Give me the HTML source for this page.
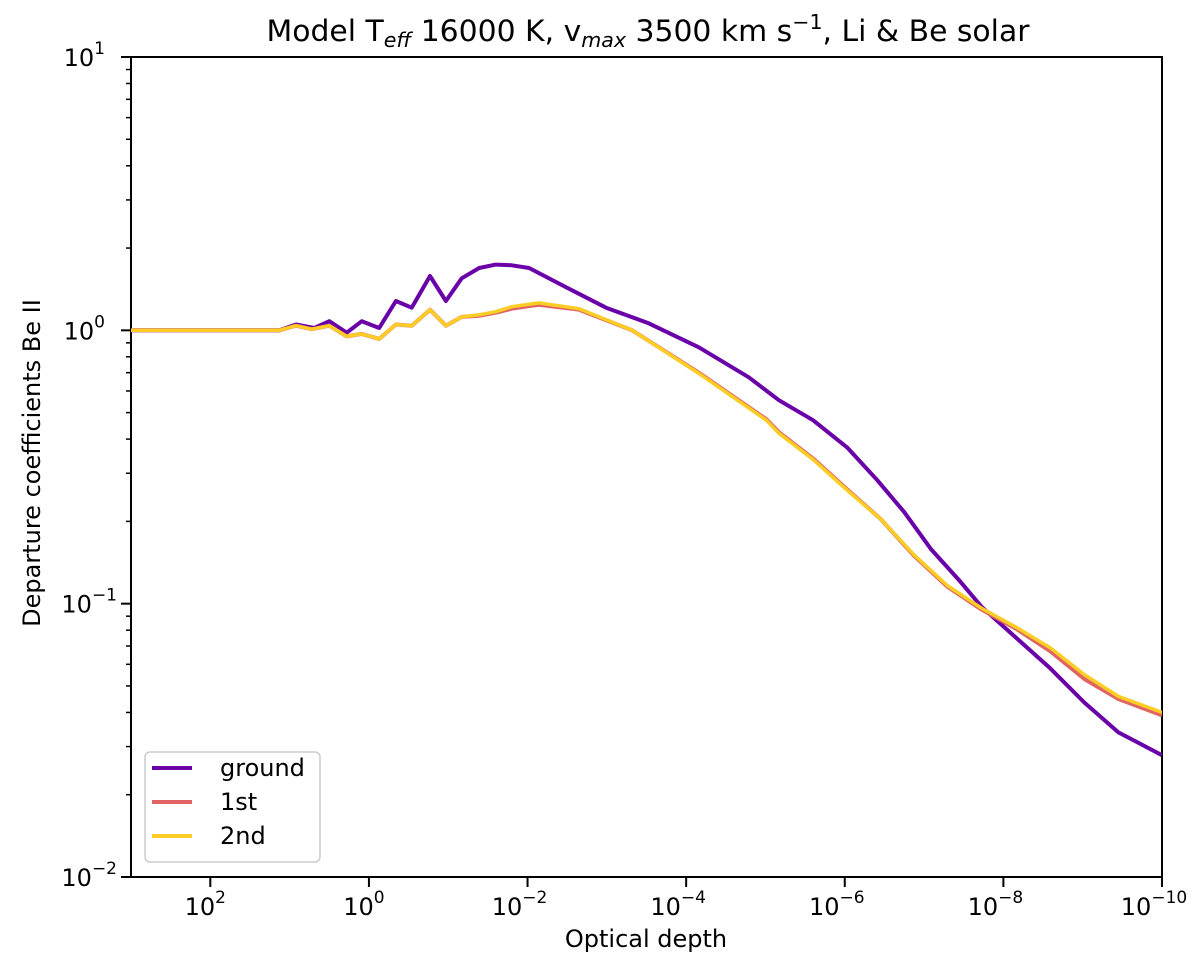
<!DOCTYPE html>
<html><head><meta charset="utf-8"><style>
body{margin:0;background:#fff;font-family:"DejaVu Sans","Liberation Sans",sans-serif;}
svg text{font-family:"DejaVu Sans","Liberation Sans",sans-serif;fill:#000;}
</style></head><body>
<svg id="chart" width="1200" height="958" xmlns="http://www.w3.org/2000/svg">
<text x="648" y="41" font-size="29" text-anchor="middle" textLength="763" lengthAdjust="spacingAndGlyphs">Model T<tspan font-size="20" dy="6" font-style="italic">eff</tspan><tspan dy="-6"> 16000 K, v</tspan><tspan font-size="20" dy="6" font-style="italic">max</tspan><tspan dy="-6"> 3500 km s</tspan><tspan font-size="20" dy="-12">−1</tspan><tspan dy="12">, Li &amp; Be solar</tspan></text>
<text x="646" y="947" font-size="24" text-anchor="middle">Optical depth</text>
<text x="40" y="463" font-size="24" text-anchor="middle" transform="rotate(-90 40 463)">Departure coefficients Be II</text>
<g id="axes"></g>
<g id="series"></g>
<g id="legend">
<rect x="145" y="752" width="175" height="110" rx="5" fill="#fff" stroke="#ccc" stroke-width="1.5"/>
</g>
</svg>
<script>
const xTicks=[2,0,-2,-4,-6,-8,-10];
const yTicks=[1,0,-1,-2];
const seriesNames=["ground","1st","2nd"];
const seriesColors=["#6a00a8","#e16462","#fccd25"];
const groundTau=[3.0,2.14,1.13,0.92,0.69,0.50,0.28,0.09,-0.13,-0.34,-0.54,-0.77,-0.97,-1.17,-1.39,-1.60,-1.80,-2.02,-2.48,-2.99,-3.53,-4.16,-4.79,-5.17,-5.60,-6.03,-6.41,-6.75,-7.09,-7.44,-7.73,-8.16,-8.59,-9.02,-9.45,-10.0];
const groundB=[1.00,1.00,1.00,1.05,1.02,1.08,0.98,1.08,1.02,1.28,1.21,1.58,1.28,1.55,1.69,1.74,1.73,1.69,1.44,1.21,1.06,0.867,0.673,0.555,0.469,0.373,0.283,0.216,0.158,0.122,0.097,0.075,0.058,0.0435,0.0338,0.0279];
const secondTau=[3.0,2.14,1.13,0.92,0.72,0.50,0.28,0.09,-0.13,-0.34,-0.54,-0.77,-0.97,-1.17,-1.39,-1.60,-1.80,-2.14,-2.65,-3.32,-4.16,-5.01,-5.17,-5.60,-6.03,-6.46,-6.87,-7.30,-7.73,-8.16,-8.59,-9.02,-9.45,-10.0];
const secondB=[1.00,1.00,1.00,1.04,1.01,1.04,0.95,0.97,0.93,1.05,1.04,1.19,1.04,1.12,1.14,1.17,1.22,1.26,1.20,1.00,0.696,0.469,0.42,0.337,0.260,0.203,0.151,0.116,0.096,0.082,0.069,0.055,0.0458,0.040];
const firstB=[1.00,1.00,1.00,1.04,1.01,1.04,0.95,0.97,0.93,1.05,1.04,1.19,1.04,1.12,1.13,1.16,1.20,1.24,1.19,1.00,0.70,0.473,0.424,0.340,0.262,0.203,0.150,0.115,0.095,0.081,0.067,0.053,0.0448,0.039];

const X0=131,X1=1162,Y0=57,Y1=877,LX0=3,LX1=-10,LY0=1,LY1=-2;
const xs=l=>X0+(LX0-l)/(LX0-LX1)*(X1-X0);
const ys=b=>Y0+(LY0-Math.log10(b))/(LY0-LY1)*(Y1-Y0);
const NS="http://www.w3.org/2000/svg";
function mk(tag,attrs,parent){const e=document.createElementNS(NS,tag);for(const k in attrs)e.setAttribute(k,attrs[k]);parent.appendChild(e);return e;}
const ax=document.getElementById('axes');
xTicks.forEach(t=>{const x=xs(t);
 const l=mk('line',{x1:x,x2:x,y1:Y1,y2:Y1+10,stroke:'#000','stroke-width':2},ax);
 
 
 const tx=mk('text',{x:x-(t<0?8:5),y:Y1+38,'font-size':24,'text-anchor':'middle'},ax);
 
 
 tx.innerHTML='10<tspan font-size="17" dy="-12">'+(t<0?'−'+(-t):t)+'</tspan>';});
yTicks.forEach(t=>{const y=ys(Math.pow(10,t));
 const l=mk('line',{x1:X0-10,x2:X0,y1:y,y2:y,stroke:'#000','stroke-width':2},ax);
 
 
 const tx=mk('text',{x:X0-(t<0?14:26),y:y+9,'font-size':24,'text-anchor':'end'},ax);
 
 
 tx.innerHTML='10<tspan font-size="17" dy="-12">'+(t<0?'−'+(-t):t)+'</tspan>';
 if(t>LY1){for(let m=2;m<10;m++){const yy=ys(m*Math.pow(10,t-1));
  const ml=mk('line',{x1:X0-5,x2:X0,y1:yy,y2:yy,stroke:'#000','stroke-width':1.5},ax);
  
  }}});
const fr=mk('rect',{x:X0,y:Y0,width:X1-X0,height:Y1-Y0,fill:'none',stroke:'#000','stroke-width':2},ax);


const sg=document.getElementById('series');
const clip=mk('clipPath',{id:'cp'},sg);mk('rect',{x:X0,y:Y0,width:X1-X0,height:Y1-Y0},clip);
function draw(tau,b,col,w,name){const d=tau.map((t,i)=>(i?'L':'M')+xs(t).toFixed(1)+','+ys(b[i]).toFixed(1)).join('');
 const p=mk('path',{d:d,fill:'none',stroke:col,'stroke-width':w,'stroke-linejoin':'round','clip-path':'url(#cp)'},sg);
 
 }
draw(groundTau,groundB,seriesColors[0],4,'ground-line');
draw(secondTau,firstB,seriesColors[1],4,'first-line');
draw(secondTau,secondB,seriesColors[2],3.5,'second-line');
const lg=document.getElementById('legend');
seriesNames.forEach((n,i)=>{const y=768+i*34;
 const l=mk('line',{x1:152,x2:192,y1:y,y2:y,stroke:seriesColors[i],'stroke-width':4},lg);
 
 
 const t=mk('text',{x:220,y:y+8,'font-size':24},lg);
 
 
 t.textContent=n;});
</script>
</body></html>
